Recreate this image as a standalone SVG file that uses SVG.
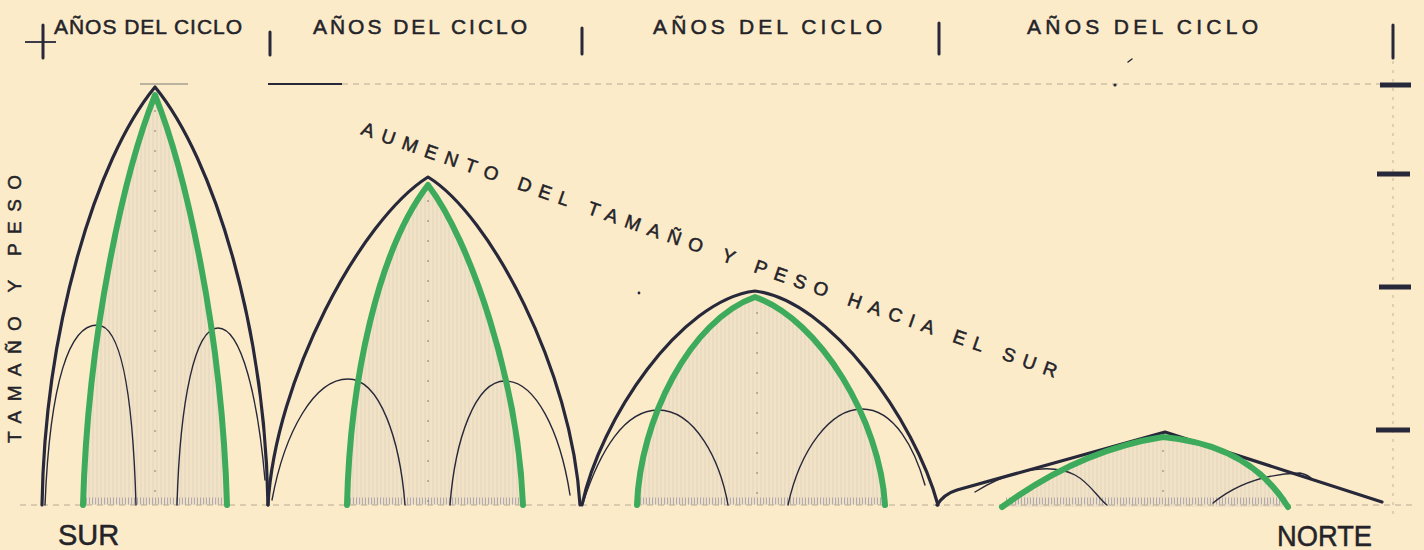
<svg xmlns="http://www.w3.org/2000/svg" width="1424" height="550" viewBox="0 0 1424 550">
  <defs>
    <pattern id="hatch" width="4" height="10" patternUnits="userSpaceOnUse">
      <rect width="4" height="10" fill="#8e8ea8" opacity="0.09"/>
      <line x1="1" y1="0" x2="1" y2="10" stroke="#8a8aa6" stroke-width="0.8" opacity="0.22"/>
    </pattern>
  </defs>
  <style>
    .bg { fill: #fcebc9; }
    .outer { fill: none; stroke: #27283a; stroke-width: 3.2; stroke-linejoin: round; stroke-linecap: round; }
    .small { fill: none; stroke: #27283a; stroke-width: 1.4; stroke-linecap: round; }
    .green { fill: none; stroke: #3dab5b; stroke-width: 6; stroke-linecap: round; stroke-linejoin: round; }
    .shade { fill: url(#hatch); stroke: none; }
    .stipple { stroke: #7f82a0; stroke-width: 7; stroke-dasharray: 1 2; opacity: 0.55; fill: none; }
    .axis { stroke: #b9ac93; stroke-width: 1.2; stroke-dasharray: 6 5; fill: none; }
    .center { stroke: #9c9486; stroke-width: 1.3; stroke-dasharray: 2 18; fill: none; }
    .tick { stroke: #27283a; stroke-width: 3; stroke-linecap: round; fill: none; }
    .rtick { stroke: #27283a; stroke-width: 5; fill: none; }
    .lbl { font-family: "Liberation Sans", Arial, sans-serif; fill: #232329; stroke: #232329; stroke-width: 0.5; }
    .head { font-size: 21px; }
    .diag { font-size: 19px; }
    .big { font-size: 29px; }
  </style>
  <rect class="bg" x="0" y="0" width="1424" height="550"/>

  <g id="grid">
    <line class="axis" x1="20" y1="505" x2="1412" y2="505"/>
    <line class="axis" x1="342" y1="84" x2="1380" y2="84"/>
    <line x1="268" y1="84" x2="342" y2="84" stroke="#27283a" stroke-width="2"/>
    <line x1="140" y1="84" x2="188" y2="84" stroke="#7d7a78" stroke-width="1.2"/>
    <line x1="1393" y1="25" x2="1393" y2="520" stroke="#c9bda5" stroke-width="1.2" stroke-dasharray="3 6"/>
    <line class="center" x1="155" y1="110" x2="155" y2="505"/>
    <line class="center" x1="428" y1="200" x2="428" y2="505"/>
    <line class="center" x1="757" y1="312" x2="757" y2="505"/>
    <line class="center" x1="1163" y1="450" x2="1163" y2="510"/>
  </g>

  <g id="header">
    <line class="tick" x1="43" y1="25" x2="43" y2="58"/>
    <line x1="25" y1="42" x2="56" y2="42" stroke="#27283a" stroke-width="1.8"/>
    <line class="tick" x1="270" y1="32" x2="270" y2="55"/>
    <line class="tick" x1="582" y1="28" x2="582" y2="54"/>
    <line class="tick" x1="939" y1="23" x2="939" y2="54"/>
    <line class="tick" x1="1393" y1="25" x2="1393" y2="58"/>
    <text class="lbl head" x="54" y="34" textLength="188" lengthAdjust="spacing">AÑOS DEL CICLO</text>
    <text class="lbl head" x="313" y="34" textLength="214" lengthAdjust="spacing">AÑOS DEL CICLO</text>
    <text class="lbl head" x="653" y="34" textLength="229" lengthAdjust="spacing">AÑOS DEL CICLO</text>
    <text class="lbl head" x="1027" y="34" textLength="231" lengthAdjust="spacing">AÑOS DEL CICLO</text>
  </g>

  <g id="scale-ticks">
    <line class="rtick" x1="1380" y1="85" x2="1411" y2="85"/>
    <line class="rtick" x1="1377" y1="174" x2="1410" y2="174"/>
    <line class="rtick" x1="1379" y1="287" x2="1411" y2="287"/>
    <line class="rtick" x1="1376" y1="430" x2="1410" y2="430"/>
  </g>

  <g id="cycle-1">
    <path class="shade" d="M83,505 C88,330 125,170 155,95 C185,170 222,330 227,505 Z"/>
    <line class="stipple" x1="86" y1="501" x2="226" y2="501"/>
    <path class="outer" d="M42,505 C45,330 95,160 155,87 C215,160 265,330 268,505"/>
    <path class="small" d="M45,505 C50,380 70,325 97,325 C122,325 133,400 136,505"/>
    <path class="small" d="M177,505 C180,400 195,328 218,328 C242,328 258,400 265,480"/>
    <path class="green" d="M83,505 C88,330 125,170 155,95 C185,170 222,330 227,505"/>
  </g>

  <g id="cycle-2">
    <path class="shade" d="M347,505 C350,380 378,250 428,185 C470,240 518,380 523,505 Z"/>
    <line class="stipple" x1="350" y1="501" x2="522" y2="501"/>
    <path class="outer" d="M268,505 C275,380 360,220 428,177 C490,215 572,370 580,505"/>
    <path class="small" d="M272,500 C285,430 315,379 348,379 C380,379 400,440 405,505"/>
    <path class="small" d="M450,505 C455,440 475,381 505,381 C535,381 560,430 570,495"/>
    <path class="green" d="M347,505 C350,380 378,250 428,185 C470,240 518,380 523,505"/>
  </g>

  <g id="cycle-3">
    <path class="shade" d="M637,505 C640,420 690,320 755,297 C820,320 880,420 885,505 Z"/>
    <line class="stipple" x1="640" y1="501" x2="884" y2="501"/>
    <path class="outer" d="M582,505 C600,420 680,300 755,291 C830,300 915,420 938,505"/>
    <path class="small" d="M583,503 C600,450 625,410 658,410 C695,410 720,460 728,505"/>
    <path class="small" d="M788,505 C800,450 830,409 862,409 C895,409 915,450 925,485"/>
    <path class="green" d="M637,505 C640,420 690,320 755,297 C820,320 880,420 885,505"/>
  </g>

  <g id="cycle-4">
    <path class="shade" d="M1002,507 Q1080,450 1163,437 Q1250,445 1288,507 Z"/>
    <line class="stipple" x1="1006" y1="501" x2="1286" y2="501"/>
    <path class="outer" d="M937,505 Q944,494 957,490 L1165,432 L1382,502"/>
    <path class="small" d="M975,492 C1010,470 1050,462 1075,475 C1090,483 1098,498 1107,505"/>
    <path class="small" d="M1213,503 C1235,485 1265,474 1300,473 C1305,474 1309,476 1312,479"/>
    <path class="green" d="M1002,507 Q1080,450 1163,437 Q1250,445 1288,507"/>
  </g>

  <g id="labels">
    <text class="lbl diag" transform="translate(360,134) rotate(19.34)" textLength="736" lengthAdjust="spacing">AUMENTO DEL TAMAÑO Y PESO HACIA EL SUR</text>
    <text class="lbl diag" transform="translate(21,443) rotate(-90)" textLength="268" lengthAdjust="spacing">TAMAÑO Y PESO</text>
    <text class="lbl big" x="58" y="545">SUR</text>
    <text class="lbl big" x="1277" y="546" textLength="95" lengthAdjust="spacingAndGlyphs">NORTE</text>
  </g>

  <g id="specks" stroke="#27283a" stroke-linecap="round">
    <line x1="1128" y1="62" x2="1132" y2="59" stroke-width="1.5"/>
    <circle cx="1115" cy="85" r="1.6" fill="#27283a" stroke="none"/>
    <circle cx="639" cy="293" r="1.4" fill="#27283a" stroke="none"/>
  </g>
</svg>
